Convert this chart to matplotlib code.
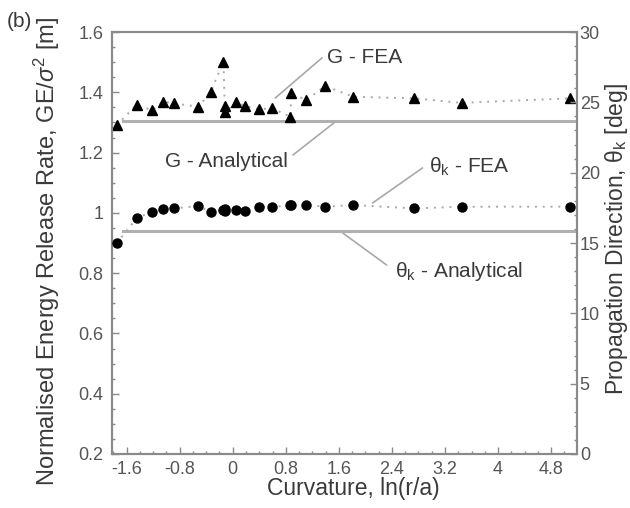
import matplotlib
matplotlib.use("Agg")
import matplotlib.pyplot as plt
from matplotlib.ticker import MultipleLocator

plt.rcParams['font.family'] = ['Liberation Sans', 'DejaVu Sans']
plt.rcParams['mathtext.fontset'] = 'custom'
plt.rcParams['mathtext.rm'] = 'Liberation Sans'
plt.rcParams['mathtext.it'] = 'Liberation Sans:italic'

# curvature ln(r/a)
curv = [-1.75, -1.45, -1.22, -1.05, -0.88, -0.52, -0.33, -0.14, -0.12, -0.11,
        0.05, 0.185, 0.40, 0.59, 0.87, 0.88, 1.11, 1.39, 1.82, 2.73, 3.45, 5.08]
# normalised energy release rate (FEA), left axis
g_fea = [1.291, 1.358, 1.341, 1.369, 1.363, 1.352, 1.402, 1.501, 1.355, 1.333,
         1.369, 1.354, 1.344, 1.347, 1.319, 1.397, 1.374, 1.421, 1.385, 1.380,
         1.365, 1.380]
# propagation direction (FEA), right axis [deg]
theta_fea = [14.98, 16.75, 17.22, 17.39, 17.46, 17.63, 17.22, 17.34, 17.40, 17.30,
             17.34, 17.30, 17.58, 17.54, 17.70, 17.70, 17.70, 17.58, 17.70, 17.46,
             17.58, 17.58]
g_analytical = 1.305
theta_analytical = 15.85

xticks = [-1.6, -0.8, 0, 0.8, 1.6, 2.4, 3.2, 4, 4.8]
xticklabels = ['-1.6', '-0.8', '0', '0.8', '1.6', '2.4', '3.2', '4', '4.8']
yticks = [0.2, 0.4, 0.6, 0.8, 1.0, 1.2, 1.4, 1.6]
yticklabels = ['0.2', '0.4', '0.6', '0.8', '1', '1.2', '1.4', '1.6']
rticks = [0, 5, 10, 15, 20, 25, 30]

spine_c = '#8a8a8a'
text_c = '#3a3a3a'
tick_c = '#555555'
line_c = '#a8a8a8'

fig = plt.figure(figsize=(6.3, 5.08), dpi=100)
ax = fig.add_axes([0.1778, 0.1063, 0.7381, 0.8307])
ax2 = ax.twinx()

xlim = (-1.82, 5.19)
ax.set_xlim(*xlim)
ax.set_ylim(0.2, 1.6)
ax2.set_ylim(0, 30)

# analytical lines
ax.plot([-1.65, xlim[1]], [g_analytical, g_analytical], c='#b0b0b0', lw=2.2, zorder=1)
ax2.plot([-1.65, xlim[1]], [theta_analytical, theta_analytical], c='#b0b0b0', lw=2.2, zorder=1)

# FEA results
ax.plot(curv, g_fea, ls=(0, (1, 3)), c=line_c, lw=1.4, marker='^', ms=7.5,
        mfc='black', mec='black', zorder=3)
ax2.plot(curv, theta_fea, ls=(0, (1, 3)), c=line_c, lw=1.4, marker='o', ms=6.5,
         mfc='black', mec='black', zorder=3)

# labels with leader lines
lab_kw = dict(fontsize=15, color=text_c, ha='center', va='center')
arr_kw = dict(arrowstyle='-', color='#a8a8a8', lw=1.2, shrinkA=0, shrinkB=0)
ax.annotate('G - FEA', xy=(0.64, 1.381), xytext=(1.99, 1.517), **lab_kw)
ax.annotate('', xy=(0.64, 1.381), xytext=(1.345, 1.514), arrowprops=arr_kw)
ax.annotate('G - Analytical', xy=(1.54, 1.301), xytext=(-0.10, 1.169), **lab_kw)
ax.annotate('', xy=(1.54, 1.301), xytext=(0.908, 1.192), arrowprops=arr_kw)
ax.annotate(r'θ$_\mathrm{k}$ - FEA', xy=(2.11, 1.033), xytext=(3.56, 1.152), **lab_kw)
ax.annotate('', xy=(2.11, 1.033), xytext=(2.86, 1.149), arrowprops=arr_kw)
ax.annotate(r'θ$_\mathrm{k}$ - Analytical', xy=(1.66, 0.933), xytext=(3.41, 0.804), **lab_kw)
ax.annotate('', xy=(1.66, 0.933), xytext=(2.32, 0.827), arrowprops=arr_kw)

# ticks
ax.set_xticks(xticks)
ax.set_xticklabels(xticklabels)
ax.xaxis.set_minor_locator(MultipleLocator(0.2))
ax.set_yticks(yticks)
ax.set_yticklabels(yticklabels)
ax.yaxis.set_minor_locator(MultipleLocator(0.05))
ax2.set_yticks(rticks)
ax2.yaxis.set_minor_locator(MultipleLocator(1))

for a in (ax, ax2):
    a.tick_params(which='both', direction='in', colors=spine_c, labelcolor=tick_c,
                  labelsize=13, width=1)
    a.tick_params(which='major', length=5)
    a.tick_params(which='minor', length=2.5)
    for s in a.spines.values():
        s.set_color(spine_c)
        s.set_linewidth(1.5)
ax.tick_params(axis='x', pad=5)
ax.tick_params(axis='y', pad=6)
ax2.tick_params(axis='y', pad=2)

ax.set_xlabel('Curvature, ln(r/a)', fontsize=16.5, color=text_c)
ax.set_ylabel(r'Normalised Energy Release Rate, GE/$\sigma^2$ [m]', fontsize=17,
              color=text_c)
ax2.set_ylabel(r'Propagation Direction, θ$_\mathrm{k}$ [deg]', fontsize=16.5,
               color=text_c, rotation=90)
ax.xaxis.set_label_coords(0.519, -0.054)
ax.yaxis.set_label_coords(-0.108, 0.479)
ax2.yaxis.set_label_coords(1.055, 0.51)

fig.text(0.031, 0.957, '(b)', fontsize=15, color=text_c, ha='center', va='center')

fig.savefig('out.png', dpi=100)
